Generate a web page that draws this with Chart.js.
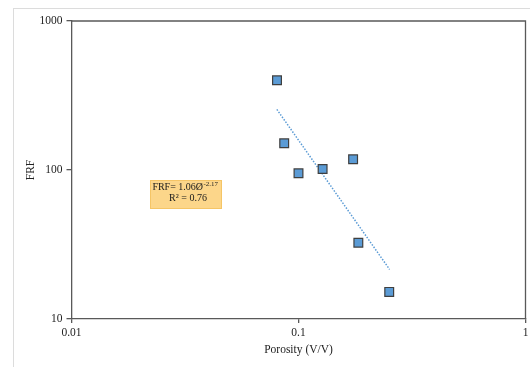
<!DOCTYPE html>
<html>
<head>
<meta charset="utf-8">
<script src="https://cdn.jsdelivr.net/npm/chart.js@4.4.1/dist/chart.umd.min.js"></script>
<style>
    html, body { margin: 0; padding: 0; background: #fff; }
    #wrap { position: relative; width: 530px; height: 367px; overflow: hidden; }
    #frame {
        position: absolute; left: 13px; top: 8px; width: 600px; height: 400px;
        border-top: 1px solid #dcdcdc; border-left: 1px solid #dcdcdc;
    }
    #frfChart { position: absolute; left: 0; top: 0; }
</style>
</head>
<body>
<div id="wrap">
    <div id="frame"></div>
    <canvas id="frfChart" width="530" height="367"></canvas>
</div>
<script>
const porosity = [0.0804, 0.0865, 0.100, 0.1277, 0.174, 0.1835, 0.251];
const frf = [400, 151, 95, 101.6, 118, 32.5, 15.2];

// Trendlinie (Endpunkte)
const trendPorosity = [0.0803, 0.252];
const trendFrf = [255, 21.5];

// Achsen-Ticks
const xTicks = [0.01, 0.1, 1];
const yTicks = [10, 100, 1000];

// Beschriftung der Gleichung
const eqMain = 'FRF= 1.06\u00D8';
const eqExp = '-2.17';
const eqR2 = 'R\u00B2 = 0.76';

const serif = '"Liberation Serif", "Times New Roman", serif';
const axisColor = '#595959';

(function() {
    'use strict';

    const canvas = document.getElementById('frfChart');

    // Rahmen oben/rechts um den Plotbereich
    const plotBorder = {
        id: 'plotBorder',
        afterDraw(chart) {
            const a = chart.chartArea;
            const ctx = chart.ctx;
            ctx.save();
            ctx.strokeStyle = axisColor;
            ctx.lineWidth = 1.3;
            ctx.beginPath();
            ctx.moveTo(a.left, a.top);
            ctx.lineTo(a.right, a.top);
            ctx.lineTo(a.right, a.bottom);
            ctx.stroke();
            ctx.restore();
        }
    };

    // Textbox mit Gleichung
    const equationBox = {
        id: 'equationBox',
        afterDatasetsDraw(chart) {
            const a = chart.chartArea;
            const ctx = chart.ctx;
            const bx = a.left + 78.5, by = 180, bw = 72, bh = 29;
            ctx.save();
            ctx.fillStyle = '#FCD68A';
            ctx.strokeStyle = '#F5C566';
            ctx.lineWidth = 1;
            ctx.fillRect(bx, by, bw, bh);
            ctx.strokeRect(bx + 0.5, by + 0.5, bw - 1, bh - 1);

            ctx.fillStyle = '#1a1a1a';
            ctx.textBaseline = 'middle';
            ctx.textAlign = 'left';
            ctx.font = '10px ' + serif;
            const wMain = ctx.measureText(eqMain).width;
            ctx.font = '7px ' + serif;
            const wExp = ctx.measureText(eqExp).width;
            const cx = bx + bw / 2;
            let x = cx - (wMain + wExp) / 2 - 1;
            ctx.font = '10px ' + serif;
            ctx.fillText(eqMain, x, by + 7.5);
            ctx.font = '7px ' + serif;
            ctx.fillText(eqExp, x + wMain + 0.5, by + 4.5);
            ctx.font = '10px ' + serif;
            ctx.textAlign = 'center';
            ctx.fillText(eqR2, cx + 2, by + 18.5);
            ctx.restore();
        }
    };

    const config = {
        type: 'scatter',
        data: {
            datasets: [
                {
                    data: porosity.map((p, i) => ({ x: p, y: frf[i] })),
                    pointStyle: 'rect',
                    pointRadius: 6.2,
                    pointHoverRadius: 6.2,
                    backgroundColor: '#5B9BD5',
                    borderColor: '#3f3f3f',
                    borderWidth: 1.2,
                    order: 1
                },
                {
                    type: 'line',
                    data: trendPorosity.map((p, i) => ({ x: p, y: trendFrf[i] })),
                    borderColor: '#5B9BD5',
                    borderWidth: 1.5,
                    borderDash: [1.5, 1.5],
                    pointRadius: 0,
                    fill: false,
                    order: 2
                }
            ]
        },
        options: {
            responsive: false,
            animation: false,
            layout: {
                autoPadding: false,
                padding: { top: 21, right: 4.5, bottom: 0, left: 0 }
            },
            plugins: {
                legend: { display: false },
                tooltip: { enabled: false }
            },
            scales: {
                x: {
                    type: 'logarithmic',
                    min: 0.01,
                    max: 1,
                    afterBuildTicks: function(scale) {
                        scale.ticks = xTicks.map(v => ({ value: v }));
                    },
                    afterFit: function(scale) {
                        scale.height = 48;
                        scale.paddingLeft = 0;
                        scale.paddingRight = 0;
                    },
                    border: { display: true, color: axisColor, width: 1.3 },
                    grid: { drawOnChartArea: false, drawTicks: true, tickLength: 4, color: axisColor, lineWidth: 1.3 },
                    ticks: {
                        color: '#222',
                        padding: 3,
                        maxRotation: 0,
                        autoSkip: false,
                        font: { family: serif, size: 11.5 },
                        callback: function(value) {
                            return String(value);
                        }
                    },
                    title: {
                        display: true,
                        text: 'Porosity (V/V)',
                        color: '#222',
                        font: { family: serif, size: 11.5 },
                        padding: { top: 0, bottom: 10 }
                    }
                },
                y: {
                    type: 'logarithmic',
                    min: 10,
                    max: 1000,
                    afterBuildTicks: function(scale) {
                        scale.ticks = yTicks.map(v => ({ value: v }));
                    },
                    afterFit: function(scale) {
                        scale.width = 71.5;
                    },
                    border: { display: true, color: axisColor, width: 1.3 },
                    grid: { drawOnChartArea: false, drawTicks: true, tickLength: 5, color: axisColor, lineWidth: 1.3 },
                    ticks: {
                        color: '#222',
                        padding: 4,
                        autoSkip: false,
                        font: { family: serif, size: 11.5 },
                        callback: function(value) {
                            return String(value);
                        }
                    },
                    title: {
                        display: true,
                        text: 'FRF',
                        color: '#222',
                        font: { family: serif, size: 11.5 },
                        padding: { top: 24, bottom: 0 }
                    }
                }
            }
        },
        plugins: [plotBorder, equationBox]
    };

    new Chart(canvas, config);
})();
</script>
</body>
</html>
